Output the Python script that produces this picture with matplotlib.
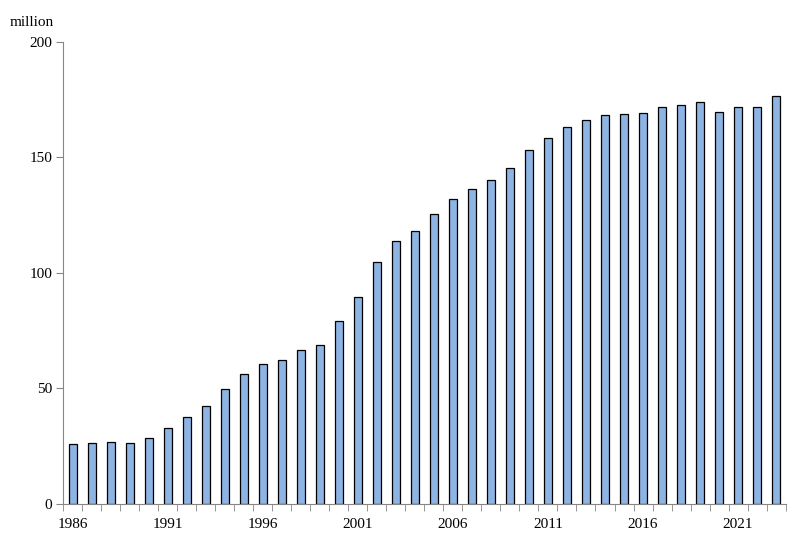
import matplotlib
matplotlib.use("Agg")
import matplotlib.pyplot as plt
import numpy as np

plt.rcParams['font.family'] = ['Liberation Serif', 'DejaVu Serif']

# data (million)
years = list(range(1986, 2024))
values = [25.9, 26.3, 26.9, 26.3, 28.6, 32.9, 37.7, 42.5, 49.6, 56.3,
          60.8, 62.3, 66.6, 68.7, 79.0, 89.7, 104.6, 113.9, 118.3, 125.6,
          132.0, 136.2, 140.3, 145.4, 153.3, 158.5, 163.2, 166.0, 168.1, 168.9,
          169.3, 171.9, 172.8, 174.1, 169.6, 171.7, 171.9, 176.5]
ytick_vals = [0, 50, 100, 150, 200]

fig = plt.figure(figsize=(8, 5.42), dpi=100)
ax = fig.add_axes([0.079, 0.070, 0.903, 0.853])

x = np.arange(len(years))
ax.bar(x, values, width=0.43, color='#8DB4E2', edgecolor='black', linewidth=0.9)

ax.set_xlim(-0.5, len(years) - 0.5)
ax.set_ylim(0, 200)
ax.set_yticks(ytick_vals)

# label every fifth year, tick marks between the bars
lab_idx = [i for i, y in enumerate(years) if (y - 1986) % 5 == 0]
ax.set_xticks(lab_idx)
ax.set_xticklabels([str(years[i]) for i in lab_idx])
ax.set_xticks(np.arange(-0.5, len(years), 1.0), minor=True)
ax.tick_params(axis='x', which='major', length=0, pad=10, labelsize=11)
ax.tick_params(axis='x', which='minor', length=5, color='#868686', direction='out')
ax.tick_params(axis='y', length=5, color='#868686', labelsize=11, pad=3)

for s in ['top', 'right']:
    ax.spines[s].set_visible(False)
for s in ['left', 'bottom']:
    ax.spines[s].set_color('#868686')

fig.text(0.012, 0.958, 'million', fontsize=11, ha='left', va='center')

fig.savefig('out.png', dpi=100)
